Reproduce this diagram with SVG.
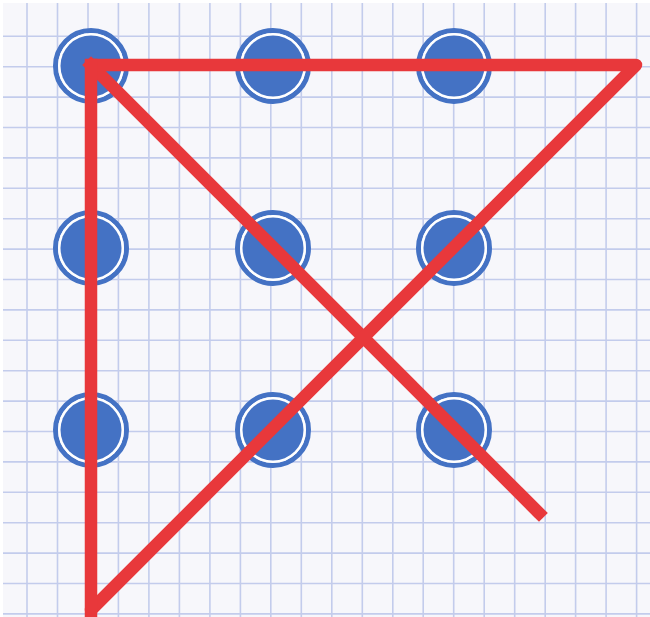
<svg xmlns="http://www.w3.org/2000/svg" width="650" height="617" viewBox="0 0 650 617">
  <defs>
    <style>
      .grid line { stroke: #C3CCEC; stroke-width: 1.6; }
      .ring { fill: none; stroke: #4472C4; stroke-width: 5; }
      .gap { fill: #FFFFFF; }
      .core { fill: #4472C4; }
      .red { fill: none; stroke: #E8383B; stroke-width: 12.5; stroke-linejoin: round; stroke-linecap: square; }
      .red-round { stroke-linecap: round; }
    </style>
  </defs>
  <rect x="0" y="0" width="650" height="617" fill="#FFFFFF"/>
  <rect x="3" y="3" width="647" height="614" fill="#F7F7FB"/>
  <g class="grid" id="grid">
    <line x1="27" y1="3" x2="27" y2="617"/>
    <line x1="57.5" y1="3" x2="57.5" y2="617"/>
    <line x1="88" y1="3" x2="88" y2="617"/>
    <line x1="118.4" y1="3" x2="118.4" y2="617"/>
    <line x1="148.9" y1="3" x2="148.9" y2="617"/>
    <line x1="179.4" y1="3" x2="179.4" y2="617"/>
    <line x1="209.9" y1="3" x2="209.9" y2="617"/>
    <line x1="240.4" y1="3" x2="240.4" y2="617"/>
    <line x1="270.8" y1="3" x2="270.8" y2="617"/>
    <line x1="301.3" y1="3" x2="301.3" y2="617"/>
    <line x1="331.8" y1="3" x2="331.8" y2="617"/>
    <line x1="362.3" y1="3" x2="362.3" y2="617"/>
    <line x1="392.8" y1="3" x2="392.8" y2="617"/>
    <line x1="423.2" y1="3" x2="423.2" y2="617"/>
    <line x1="453.7" y1="3" x2="453.7" y2="617"/>
    <line x1="484.2" y1="3" x2="484.2" y2="617"/>
    <line x1="514.7" y1="3" x2="514.7" y2="617"/>
    <line x1="545.2" y1="3" x2="545.2" y2="617"/>
    <line x1="575.6" y1="3" x2="575.6" y2="617"/>
    <line x1="606.1" y1="3" x2="606.1" y2="617"/>
    <line x1="636.6" y1="3" x2="636.6" y2="617"/>
    <line x1="3" y1="36.3" x2="650" y2="36.3"/>
    <line x1="3" y1="66.7" x2="650" y2="66.7"/>
    <line x1="3" y1="97.1" x2="650" y2="97.1"/>
    <line x1="3" y1="127.5" x2="650" y2="127.5"/>
    <line x1="3" y1="157.9" x2="650" y2="157.9"/>
    <line x1="3" y1="188.3" x2="650" y2="188.3"/>
    <line x1="3" y1="218.7" x2="650" y2="218.7"/>
    <line x1="3" y1="249.1" x2="650" y2="249.1"/>
    <line x1="3" y1="279.5" x2="650" y2="279.5"/>
    <line x1="3" y1="309.9" x2="650" y2="309.9"/>
    <line x1="3" y1="340.3" x2="650" y2="340.3"/>
    <line x1="3" y1="370.7" x2="650" y2="370.7"/>
    <line x1="3" y1="401.1" x2="650" y2="401.1"/>
    <line x1="3" y1="431.5" x2="650" y2="431.5"/>
    <line x1="3" y1="461.9" x2="650" y2="461.9"/>
    <line x1="3" y1="492.3" x2="650" y2="492.3"/>
    <line x1="3" y1="522.7" x2="650" y2="522.7"/>
    <line x1="3" y1="553.1" x2="650" y2="553.1"/>
    <line x1="3" y1="583.5" x2="650" y2="583.5"/>
    <line x1="3" y1="613.9" x2="650" y2="613.9"/>
  </g>
  <g id="dot-1-1"><circle class="ring" cx="91" cy="66" r="35.5"/><circle class="gap" cx="91" cy="66" r="33"/><circle class="core" cx="91" cy="66" r="30.5"/></g>
  <g id="dot-1-2"><circle class="ring" cx="273" cy="66" r="35.5"/><circle class="gap" cx="273" cy="66" r="33"/><circle class="core" cx="273" cy="66" r="30.5"/></g>
  <g id="dot-1-3"><circle class="ring" cx="454" cy="66" r="35.5"/><circle class="gap" cx="454" cy="66" r="33"/><circle class="core" cx="454" cy="66" r="30.5"/></g>
  <g id="dot-2-1"><circle class="ring" cx="91" cy="248" r="35.5"/><circle class="gap" cx="91" cy="248" r="33"/><circle class="core" cx="91" cy="248" r="30.5"/></g>
  <g id="dot-2-2"><circle class="ring" cx="273" cy="248" r="35.5"/><circle class="gap" cx="273" cy="248" r="33"/><circle class="core" cx="273" cy="248" r="30.5"/></g>
  <g id="dot-2-3"><circle class="ring" cx="454" cy="248" r="35.5"/><circle class="gap" cx="454" cy="248" r="33"/><circle class="core" cx="454" cy="248" r="30.5"/></g>
  <g id="dot-3-1"><circle class="ring" cx="91" cy="430" r="35.5"/><circle class="gap" cx="91" cy="430" r="33"/><circle class="core" cx="91" cy="430" r="30.5"/></g>
  <g id="dot-3-2"><circle class="ring" cx="273" cy="430" r="35.5"/><circle class="gap" cx="273" cy="430" r="33"/><circle class="core" cx="273" cy="430" r="30.5"/></g>
  <g id="dot-3-3"><circle class="ring" cx="454" cy="430" r="35.5"/><circle class="gap" cx="454" cy="430" r="33"/><circle class="core" cx="454" cy="430" r="30.5"/></g>
  <g id="connectors">
    <path class="red" d="M539,513 L91,65"/>
    <path class="red red-round" d="M91,65 L636,65 L91,610"/>
    <path class="red" d="M91,620 L91,65"/>
  </g>
</svg>
